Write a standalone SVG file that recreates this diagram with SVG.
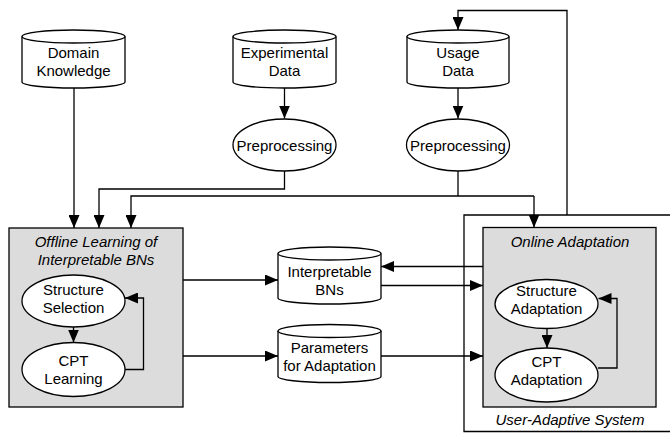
<svg xmlns="http://www.w3.org/2000/svg" width="670" height="433" viewBox="0 0 670 433">
  <style>
    .shape { fill: #ffffff; stroke: #000000; stroke-width: 1.3; }
    .panel { fill: #dcdcdc; stroke: #000000; stroke-width: 1.3; }
    .frame { fill: none; stroke: #000000; stroke-width: 1.3; }
    .link { fill: none; stroke: #000000; stroke-width: 1.3; }
    .lbl { font-family: "Liberation Sans", Arial, Helvetica, sans-serif; font-size: 15px; fill: #000000; text-anchor: middle; }
    .ttl { font-style: italic; }
  </style>
  <defs>
    <marker id="arrow" markerUnits="userSpaceOnUse" markerWidth="13" markerHeight="11" refX="13" refY="5.5" orient="auto">
      <path d="M0,0 L13,5.5 L0,11 z" fill="#000000"/>
    </marker>
  </defs>

  <!-- outer system frame (open to the right) -->
  <g id="user-adaptive-system">
    <path class="frame" d="M680,215 L464,215 L464,431.5 L680,431.5"/>
    <text class="lbl ttl" x="570" y="425">User-Adaptive System</text>
  </g>

  <!-- data stores -->
  <g id="domain-knowledge">
    <path class="shape" d="M22,36.5 L22,82 A51.5,6 0 0 0 125,82 L125,36.5"/>
    <ellipse class="shape" cx="73.5" cy="36.5" rx="51.5" ry="6.5"/>
    <text class="lbl" x="73.5" y="58">Domain</text>
    <text class="lbl" x="73.5" y="76">Knowledge</text>
  </g>

  <g id="experimental-data">
    <path class="shape" d="M233,36.5 L233,82 A51.5,6 0 0 0 336,82 L336,36.5"/>
    <ellipse class="shape" cx="284.5" cy="36.5" rx="51.5" ry="6.5"/>
    <text class="lbl" x="284.5" y="58">Experimental</text>
    <text class="lbl" x="284.5" y="76">Data</text>
  </g>

  <g id="usage-data">
    <path class="shape" d="M407,36.5 L407,82 A51,6 0 0 0 509,82 L509,36.5"/>
    <ellipse class="shape" cx="458" cy="36.5" rx="51" ry="6.5"/>
    <text class="lbl" x="458" y="58">Usage</text>
    <text class="lbl" x="458" y="76">Data</text>
  </g>

  <g id="preprocessing-experimental">
    <ellipse class="shape" cx="284.5" cy="145" rx="51.5" ry="26"/>
    <text class="lbl" x="284.5" y="151">Preprocessing</text>
  </g>

  <g id="preprocessing-usage">
    <ellipse class="shape" cx="458" cy="145" rx="51.5" ry="26"/>
    <text class="lbl" x="458" y="151">Preprocessing</text>
  </g>

  <g id="interpretable-bns">
    <path class="shape" d="M278,253.5 L278,298 A51.5,6 0 0 0 381,298 L381,253.5"/>
    <ellipse class="shape" cx="329.5" cy="253.5" rx="51.5" ry="6.5"/>
    <text class="lbl" x="329.5" y="277">Interpretable</text>
    <text class="lbl" x="329.5" y="295">BNs</text>
  </g>

  <g id="parameters-for-adaptation">
    <path class="shape" d="M278,331 L278,376.5 A51.5,6 0 0 0 381,376.5 L381,331"/>
    <ellipse class="shape" cx="329.5" cy="331" rx="51.5" ry="6.5"/>
    <text class="lbl" x="329.5" y="353">Parameters</text>
    <text class="lbl" x="329.5" y="371">for Adaptation</text>
  </g>

  <!-- offline learning panel -->
  <g id="offline-learning">
    <rect class="panel" x="9" y="228" width="174" height="179"/>
    <text class="lbl ttl" x="96" y="247">Offline Learning of</text>
    <text class="lbl ttl" x="96" y="265">Interpretable BNs</text>
  </g>
  <g id="structure-selection">
    <ellipse class="shape" cx="73.5" cy="301" rx="51.5" ry="26"/>
    <text class="lbl" x="73.5" y="295">Structure</text>
    <text class="lbl" x="73.5" y="313">Selection</text>
  </g>
  <g id="cpt-learning">
    <ellipse class="shape" cx="73.5" cy="369.5" rx="51.5" ry="27"/>
    <text class="lbl" x="73.5" y="366">CPT</text>
    <text class="lbl" x="73.5" y="384">Learning</text>
  </g>

  <!-- online adaptation panel -->
  <g id="online-adaptation">
    <rect class="panel" x="483" y="227.5" width="173" height="179.5"/>
    <text class="lbl ttl" x="570" y="247">Online Adaptation</text>
  </g>
  <g id="structure-adaptation">
    <ellipse class="shape" cx="546.5" cy="304" rx="51.5" ry="24.5"/>
    <text class="lbl" x="546.5" y="296">Structure</text>
    <text class="lbl" x="546.5" y="314">Adaptation</text>
  </g>
  <g id="cpt-adaptation">
    <ellipse class="shape" cx="546.5" cy="375" rx="51.5" ry="27"/>
    <text class="lbl" x="546.5" y="367">CPT</text>
    <text class="lbl" x="546.5" y="385">Adaptation</text>
  </g>

  <!-- connectors -->
  <g id="connectors">
    <path class="link" marker-end="url(#arrow)" d="M74,88 L74,228"/>
    <path class="link" marker-end="url(#arrow)" d="M284.5,88 L284.5,118.5"/>
    <path class="link" marker-end="url(#arrow)" d="M458,88 L458,118.5"/>
    <path class="link" marker-end="url(#arrow)" d="M284.5,171 L284.5,189 L99,189 L99,228"/>
    <path class="link" d="M458,171 L458,196"/>
    <path class="link" marker-end="url(#arrow)" d="M534,196 L131,196 L131,228"/>
    <path class="link" marker-end="url(#arrow)" d="M534,196 L534,227.5"/>
    <path class="link" marker-end="url(#arrow)" d="M567,215 L567,10.5 L458,10.5 L458,30"/>

    <path class="link" marker-end="url(#arrow)" d="M183,280 L278,280"/>
    <path class="link" marker-end="url(#arrow)" d="M183,356 L278,356"/>
    <path class="link" marker-end="url(#arrow)" d="M483,266.5 L381,266.5"/>
    <path class="link" marker-end="url(#arrow)" d="M381,285.5 L483,285.5"/>
    <path class="link" marker-end="url(#arrow)" d="M381,356 L483,356"/>

    <path class="link" marker-end="url(#arrow)" d="M73.5,327 L73.5,342.5"/>
    <path class="link" marker-end="url(#arrow)" d="M125,369.5 L143.5,369.5 L143.5,298 L125,298"/>
    <path class="link" marker-end="url(#arrow)" d="M547,328.5 L547,348"/>
    <path class="link" marker-end="url(#arrow)" d="M598,368 L617,368 L617,298.5 L598.5,298.5"/>
  </g>
</svg>
